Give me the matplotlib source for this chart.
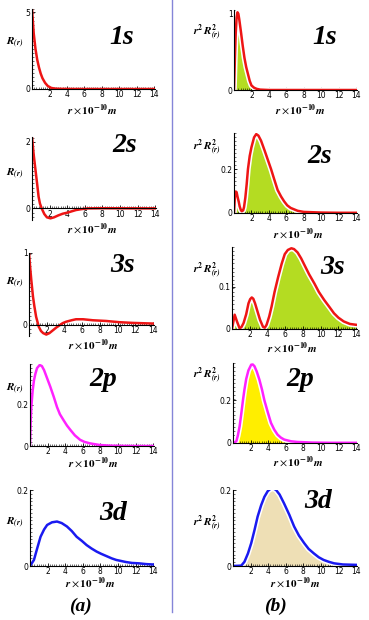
import matplotlib
matplotlib.use("Agg")
import matplotlib.pyplot as plt
from matplotlib.ticker import MultipleLocator, FixedLocator

plt.rcParams['mathtext.fontset'] = 'stix'

W, H = 369, 620

# ---- data (r in 1e-10 m) ----
r_1s_a = [0, 0.2, 0.4, 0.6, 0.8, 1.0, 1.2, 1.5, 1.8, 2.2, 2.6, 3.0, 4, 6, 8, 10, 12, 14]
R_1s = [5.2, 3.6, 2.6, 1.9, 1.4, 1.0, 0.7, 0.4, 0.2, 0.07, 0.03, 0.015, 0.005, 0, 0, 0, 0, 0]

r_1s_b = [0, 0.1, 0.2, 0.3, 0.4, 0.5, 0.6, 0.8, 1.0, 1.2, 1.4, 1.6, 1.8, 2.0, 2.3, 2.6, 3.0, 4, 6, 8, 10, 12, 14]
P_1s = [0, 0.4, 0.75, 0.95, 1.02, 1.0, 0.93, 0.76, 0.58, 0.42, 0.3, 0.21, 0.12, 0.06, 0.03, 0.015, 0.005, 0, 0, 0, 0, 0, 0]

r_2s_a = [0, 0.2, 0.4, 0.6, 0.75, 0.9, 1.1, 1.4, 1.7, 2.1, 2.5, 3.0, 3.5, 4.0, 4.5, 5.0, 5.7, 6.4, 8, 10, 12, 14]
R_2s = [2.15, 1.6, 1.15, 0.7, 0.35, 0.15, 0.0, -0.17, -0.27, -0.3, -0.27, -0.21, -0.16, -0.13, -0.09, -0.05, -0.02, 0.0, 0.005, 0.003, 0.001, 0]

r_2s_b = [0, 0.1, 0.2, 0.3, 0.4, 0.55, 0.65, 0.8, 0.9, 1.05, 1.15, 1.3, 1.45, 1.6, 1.8, 2.0, 2.3, 2.55, 2.8, 3.1, 3.5, 3.9, 4.25, 4.6, 5.0, 5.4, 5.75, 6.1, 6.5, 7.3, 8, 10, 12, 14]
P_2s = [0, 0.07, 0.098, 0.095, 0.075, 0.05, 0.03, 0.012, 0.008, 0.012, 0.027, 0.07, 0.13, 0.2, 0.26, 0.3, 0.345, 0.36, 0.353, 0.33, 0.286, 0.24, 0.2, 0.155, 0.105, 0.075, 0.053, 0.035, 0.023, 0.01, 0.005, 0.002, 0.001, 0.001]

r_3s_a = [0, 0.13, 0.26, 0.45, 0.6, 0.8, 1.1, 1.35, 1.6, 1.95, 2.3, 2.7, 3.1, 3.45, 3.8, 4.2, 4.8, 5.3, 6.1, 7.2, 8.7, 10.2, 11.7, 14]
R_3s = [1.0, 0.8, 0.62, 0.39, 0.26, 0.11, -0.03, -0.09, -0.12, -0.14, -0.12, -0.08, -0.04, -0.01, 0.02, 0.04, 0.06, 0.074, 0.074, 0.06, 0.05, 0.033, 0.023, 0.014]

r_3s_b = [0, 0.3, 0.56, 0.85, 1.05, 1.3, 1.6, 1.86, 2.05, 2.23, 2.4, 2.6, 2.9, 3.16, 3.5, 3.7, 3.9, 4.2, 4.46, 4.8, 5.2, 5.6, 5.95, 6.3, 6.7, 7.0, 7.4, 7.8, 8.2, 8.7, 9.3, 9.8, 10.4, 11.0, 11.5, 12.0, 12.6, 13.3, 14]
P_3s = [0, 0.034, 0.018, 0.002, 0.004, 0.014, 0.035, 0.061, 0.071, 0.075, 0.072, 0.061, 0.04, 0.022, 0.005, 0.003, 0.01, 0.03, 0.053, 0.088, 0.123, 0.155, 0.178, 0.188, 0.192, 0.19, 0.182, 0.168, 0.151, 0.13, 0.108, 0.088, 0.069, 0.052, 0.0375, 0.027, 0.018, 0.012, 0.01]

r_2p_a = [0, 0.08, 0.15, 0.3, 0.45, 0.6, 0.8, 1.1, 1.35, 1.6, 1.95, 2.3, 2.7, 3.07, 3.4, 3.8, 4.2, 4.6, 5.1, 5.7, 6.2, 6.8, 7.9, 9, 10, 12, 14]
R_2p = [0, 0.12, 0.19, 0.27, 0.32, 0.35, 0.38, 0.395, 0.39, 0.37, 0.33, 0.29, 0.24, 0.19, 0.155, 0.127, 0.1, 0.078, 0.052, 0.03, 0.02, 0.013, 0.005, 0.002, 0.001, 0, 0]

r_2p_b = [0, 0.38, 0.55, 0.75, 0.95, 1.13, 1.3, 1.5, 1.75, 2.07, 2.25, 2.44, 2.7, 3.0, 3.3, 3.57, 3.95, 4.32, 4.7, 5.07, 5.45, 5.83, 6.6, 7.3, 9, 11, 14]
P_2p = [0, 0.008, 0.035, 0.078, 0.14, 0.2, 0.25, 0.3, 0.34, 0.367, 0.368, 0.36, 0.335, 0.297, 0.25, 0.2, 0.145, 0.094, 0.062, 0.039, 0.025, 0.016, 0.008, 0.005, 0.002, 0.001, 0.001]

r_3d_a = [0, 0.45, 0.8, 1.2, 1.6, 1.95, 2.5, 3.07, 3.6, 4.2, 4.75, 5.3, 5.9, 6.44, 7.0, 7.57, 8.1, 8.7, 9.3, 9.8, 10.4, 10.9, 11.6, 12.4, 13.2, 14]
R_3d = [0, 0.016, 0.045, 0.077, 0.096, 0.108, 0.115, 0.117, 0.113, 0.104, 0.092, 0.077, 0.066, 0.055, 0.046, 0.038, 0.032, 0.026, 0.02, 0.016, 0.013, 0.0105, 0.008, 0.007, 0.005, 0.004]

r_3d_b = [0, 0.94, 1.3, 1.7, 2.07, 2.45, 2.8, 3.2, 3.57, 3.95, 4.3, 4.6, 4.9, 5.3, 5.8, 6.4, 6.95, 7.5, 8.1, 8.6, 9.2, 9.75, 10.3, 10.9, 11.5, 12.5, 14]
P_3d = [0, 0.001, 0.011, 0.033, 0.06, 0.095, 0.13, 0.16, 0.182, 0.197, 0.204, 0.204, 0.2, 0.188, 0.165, 0.135, 0.104, 0.08, 0.06, 0.045, 0.033, 0.023, 0.016, 0.011, 0.007, 0.004, 0.003]

names = ['1s', '2s', '3s', '2p', '3d']

red, magenta, blue = '#ee1515', '#ff22ff', '#1a1af0'
green, yellow, tan = '#b4dc22', '#ffee00', '#eedfb5'

fig = plt.figure(figsize=(W / 100, H / 100), dpi=100)


def make_axes(x0, y0, x1, y1):
    return fig.add_axes([x0 / W, 1 - y1 / H, (x1 - x0) / W, (y1 - y0) / H])


def style(ax, ylim, yticks, ylabels):
    ax.set_xlim(0, 14.1)
    ax.set_ylim(*ylim)
    for s in ['top', 'right']:
        ax.spines[s].set_visible(False)
    if ylim[0] < 0:
        ax.spines['bottom'].set_position(('data', 0))
    ax.spines['left'].set_linewidth(0.8)
    ax.spines['bottom'].set_linewidth(0.8)
    ax.xaxis.set_major_locator(FixedLocator([2, 4, 6, 8, 10, 12, 14]))
    ax.xaxis.set_minor_locator(MultipleLocator(0.25))
    ax.yaxis.set_major_locator(FixedLocator(yticks))
    ax.set_yticklabels(ylabels)
    ax.tick_params(labelsize=5.5, length=2.5, width=0.6, pad=1, direction='in')
    ax.tick_params(which='minor', length=1.2, width=0.4, direction='in')
    ax.yaxis.set_minor_locator(MultipleLocator((ylim[1] - ylim[0]) / 20))


# ---- left column: R(r) ----
left_specs = [
    ((32, 9, 155, 89), r_1s_a, R_1s, red, (0, 5.2), [0, 5], ['0', '5']),
    ((32, 137, 156, 220), r_2s_a, R_2s, red, (-0.35, 2.15), [0, 2], ['0', '2']),
    ((29, 253, 154, 336), r_3s_a, R_3s, red, (-0.16, 1.0), [0, 1], ['0', '1']),
    ((30, 364, 154, 446), r_2p_a, R_2p, magenta, (0, 0.4), [0, 0.2], ['0', '0.2']),
    ((30, 490, 154, 566), r_3d_a, R_3d, blue, (0, 0.2), [0, 0.2], ['0', '0.2']),
]
for box, r, y, c, yl, yt, ytl in left_specs:
    ax = make_axes(*box)
    ax.plot(r, y, color=c, lw=1.8)
    style(ax, yl, yt, ytl)

# ---- right column: r^2 R^2 ----
right_specs = [
    ((234, 10, 357, 90), r_1s_b, P_1s, red, green, (0, 1.05), [0, 1], ['0', '1']),
    ((234, 133, 357, 213), r_2s_b, P_2s, red, green, (0, 0.365), [0, 0.2], ['0', '0.2']),
    ((232, 247, 357, 329), r_3s_b, P_3s, red, green, (0, 0.195), [0, 0.1], ['0', '0.1']),
    ((233, 363, 357, 443), r_2p_b, P_2p, magenta, yellow, (0, 0.375), [0, 0.2], ['0', '0.2']),
    ((233, 490, 357, 566), r_3d_b, P_3d, blue, tan, (0, 0.2), [0, 0.2], ['0', '0.2']),
]
for box, r, y, c, fc, yl, yt, ytl in right_specs:
    ax = make_axes(*box)
    ax.fill_between(r, y, 0, color=fc, lw=0)
    ax.plot(r, y, color='white', lw=4)
    ax.plot(r, y, color=c, lw=1.8)
    style(ax, yl, yt, ytl)


def ftext(x, y, s, **kw):
    fig.text(x / W, 1 - y / H, s, ha='center', va='center', **kw)


title_font = dict(family='Liberation Serif', weight='bold', style='italic', fontsize=20)
left_title_pos = [(122, 37), (125, 145), (123, 265), (103, 380), (113, 513)]
right_title_pos = [(325, 37), (320, 157), (333, 267), (300, 380), (318, 502)]
for n, p in zip(names, left_title_pos):
    ftext(*p, n, **title_font)
for n, p in zip(names, right_title_pos):
    ftext(*p, n, **title_font)

xlab = r'$\mathbfit{r}\times\mathbf{10}^{\mathbf{-10}}\mathbfit{m}$'
left_xlab_pos = [(92, 110), (92, 229), (93, 345), (93, 463), (90, 583)]
right_xlab_pos = [(300, 110), (298, 234), (292, 348), (298, 462), (295, 583)]
for p in left_xlab_pos + right_xlab_pos:
    ftext(*p, xlab, fontsize=8)

ylab_a = r'$\mathbfit{R}_{\mathbfit{(r)}}$'
ylab_b = r'$\mathbfit{r}^{\mathbf{2}}\,\mathbfit{R}^{\mathbf{2}}_{\mathbfit{(r)}}$'
for y in [43, 174, 283, 389, 523]:
    ftext(15, y, ylab_a, fontsize=8)
for y in [32, 147, 270, 375, 523]:
    ftext(207, y, ylab_b, fontsize=8)

ftext(80, 606, '(a)', family='Liberation Serif', weight='bold', style='italic', fontsize=14)
ftext(275, 606, '(b)', family='Liberation Serif', weight='bold', style='italic', fontsize=14)

# divider between the two columns
fig.add_artist(plt.Line2D([172 / W, 172 / W], [1 - 612 / H, 1.0], color='#8585d8', lw=1.0))

fig.savefig('out.png', dpi=100)
